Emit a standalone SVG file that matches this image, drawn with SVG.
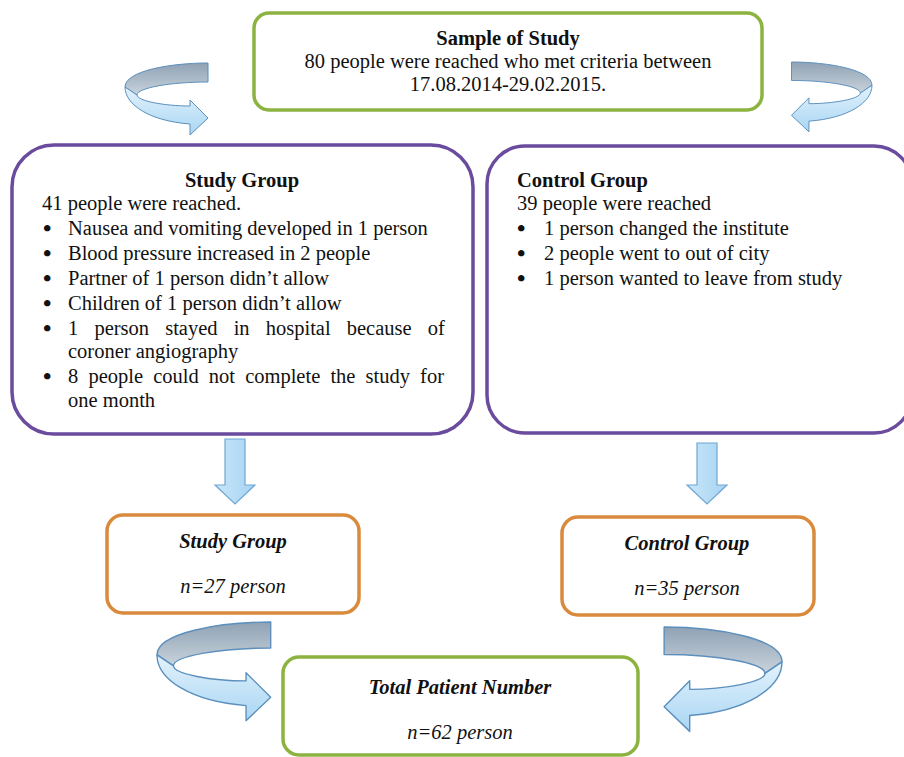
<svg xmlns="http://www.w3.org/2000/svg" width="904" height="757" viewBox="0 0 904 757">
  <defs>
    <linearGradient id="blueG" x1="0" y1="0" x2="0" y2="1">
      <stop offset="0" stop-color="#e3f2fc"/>
      <stop offset="1" stop-color="#a9d6f3"/>
    </linearGradient>
    <linearGradient id="grayG" x1="0" y1="0" x2="0" y2="1">
      <stop offset="0" stop-color="#8fa2b4"/>
      <stop offset="1" stop-color="#c9d3dc"/>
    </linearGradient>
    <linearGradient id="downG" x1="0" y1="0" x2="1" y2="0">
      <stop offset="0" stop-color="#c8e6f9"/>
      <stop offset="1" stop-color="#a7d4f2"/>
    </linearGradient>
    <g id="uturn">
      <path class="back" d="M83,0 C45,0 0,8 0,24 L12,32 C12,25 45,19 83,19 Z"/>
      <path class="front" d="M0,24 C0,42 25,58 65,61 L65,72 L83,55 L65,37 L65,43 C40,43 12,38 12,32 Z"/>
    </g>
  </defs>
  <style>
    .back { fill: url(#grayG); stroke: #5b8fbd; stroke-width: 1; stroke-linejoin: round; }
    .front { fill: url(#blueG); stroke: #5b8fbd; stroke-width: 1; stroke-linejoin: round; }
    .down { fill: url(#downG); stroke: #6fa6d3; stroke-width: 1.2; }
    .green { fill: #ffffff; stroke: #8cb340; stroke-width: 3.5; }
    .purple { fill: #ffffff; stroke: #6a4b9e; stroke-width: 3.5; }
    .orange { fill: #ffffff; stroke: #d98a3c; stroke-width: 3.5; }
    text { font-family: 'Liberation Serif', 'DejaVu Serif', serif; font-size: 20.5px; fill: #111111; }
    .b { font-weight: bold; }
    .bi { font-weight: bold; font-style: italic; }
    .i { font-style: italic; }
    .c { text-anchor: middle; }
    .dot { font-size: 24px; font-weight: bold; }
  </style>

  <g id="connectors">
    <use href="#uturn" transform="translate(125,63)"/>
    <use href="#uturn" transform="translate(872,62) scale(-0.97,0.97)"/>
    <path class="down" d="M225,439 L245,439 L245,485 L255,485 L235,504 L215,485 L225,485 Z"/>
    <path class="down" d="M697,443 L717,443 L717,485 L727,485 L707,504 L687,485 L697,485 Z"/>
    <use href="#uturn" transform="translate(157,622) scale(1.37)"/>
    <use href="#uturn" transform="translate(782,627) scale(-1.42,1.45)"/>
  </g>

  <g id="sample">
    <rect class="green" x="254" y="13" width="508" height="97" rx="15"/>
    <text class="b c" x="508" y="45">Sample of Study</text>
    <text class="c" x="508" y="68">80 people were reached who met criteria between</text>
    <text class="c" x="508" y="91">17.08.2014-29.02.2015.</text>
  </g>

  <g id="study-group">
    <rect class="purple" x="12" y="145" width="461" height="289" rx="42"/>
    <text class="b c" x="242" y="187">Study Group</text>
    <text x="42" y="210">41 people were reached.</text>
    <text class="dot" x="43" y="236">•</text><text x="68" y="235">Nausea and vomiting developed in 1 person</text>
    <text class="dot" x="43" y="261">•</text><text x="68" y="260">Blood pressure increased in 2 people</text>
    <text class="dot" x="43" y="286">•</text><text x="68" y="285">Partner of 1 person didn’t allow</text>
    <text class="dot" x="43" y="311">•</text><text x="68" y="310">Children of 1 person didn’t allow</text>
    <text class="dot" x="43" y="336">•</text><text x="68" y="335" word-spacing="11">1 person stayed in hospital because of</text>
    <text x="68" y="358">coroner angiography</text>
    <text class="dot" x="43" y="384">•</text><text x="68" y="383" word-spacing="5">8 people could not complete the study for</text>
    <text x="68" y="407">one month</text>
  </g>

  <g id="control-group">
    <rect class="purple" x="487" y="146" width="425" height="287" rx="38"/>
    <text class="b" x="517" y="187">Control Group</text>
    <text x="517" y="210">39 people were reached</text>
    <text class="dot" x="517" y="236">•</text><text x="544" y="235">1 person changed the institute</text>
    <text class="dot" x="517" y="261">•</text><text x="544" y="260">2 people went to out of city</text>
    <text class="dot" x="517" y="286">•</text><text x="544" y="285">1 person wanted to leave from study</text>
  </g>

  <g id="study-n">
    <rect class="orange" x="107" y="515" width="252" height="98" rx="16"/>
    <text class="bi c" x="233" y="548">Study Group</text>
    <text class="i c" x="233" y="593">n=27 person</text>
  </g>

  <g id="control-n">
    <rect class="orange" x="562" y="517" width="252" height="98" rx="16"/>
    <text class="bi c" x="687" y="550">Control Group</text>
    <text class="i c" x="687" y="595">n=35 person</text>
  </g>

  <g id="total">
    <rect class="green" x="283" y="657" width="355" height="98" rx="16"/>
    <text class="bi c" x="460" y="694">Total Patient Number</text>
    <text class="i c" x="460" y="739">n=62 person</text>
  </g>
</svg>
